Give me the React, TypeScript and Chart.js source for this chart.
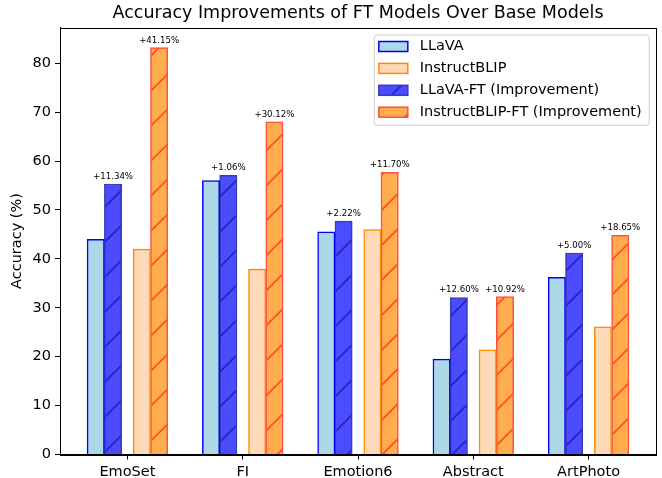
import React, { useEffect, useRef } from "react";
import { Chart, registerables } from "chart.js";

Chart.register(...registerables);

const categories = ["EmoSet", "FI", "Emotion6", "Abstract", "ArtPhoto"];
const llava = [44.0, 56.0, 45.5, 19.5, 36.2];
const instructBlip = [42.0, 37.9, 46.0, 21.4, 26.1];
const llavaFT = [55.3, 57.1, 47.7, 32.1, 41.2];
const instructBlipFT = [83.2, 68.0, 57.7, 32.3, 44.8];
const llavaGain = ["+11.34%", "+1.06%", "+2.22%", "+12.60%", "+5.00%"];
const instructBlipGain = ["+41.15%", "+30.12%", "+11.70%", "+10.92%", "+18.65%"];
const yTicks = [0, 10, 20, 30, 40, 50, 60, 70, 80];

const FONT = "'DejaVu Sans', 'Liberation Sans', sans-serif";
const W = 662;
const H = 478;

function makeHatch(ctx: CanvasRenderingContext2D, fill: string, line: string) {
  const s = 35;
  const c = document.createElement("canvas");
  c.width = s;
  c.height = s;
  const g = c.getContext("2d")!;
  g.fillStyle = fill;
  g.fillRect(0, 0, s, s);
  g.strokeStyle = line;
  g.lineWidth = 1.4;
  g.beginPath();
  for (const k of [0, s, 2 * s]) {
    g.moveTo(k + 3, -3);
    g.lineTo(-3, k + 3);
  }
  g.stroke();
  const p = ctx.createPattern(c, "repeat")!;
  try {
    p.setTransform(new DOMMatrix([1, 0, 0, 1, 31.7, 0]));
  } catch (e) {}
  return p;
}

const framePlugin = {
  id: "frame",
  afterDatasetsDraw(chart: any) {
    const { ctx, chartArea: a } = chart;
    ctx.save();
    ctx.strokeStyle = "#000";
    ctx.lineWidth = 1;
    ctx.strokeRect(Math.round(a.left) + 0.5, Math.round(a.top) + 0.5, Math.round(a.right - a.left), Math.round(a.bottom - a.top));
    ctx.restore();
  },
};

const gainPlugin = {
  id: "gains",
  afterDatasetsDraw(chart: any) {
    const ctx = chart.ctx;
    ctx.save();
    ctx.font = `8.6px ${FONT}`;
    ctx.fillStyle = "#000";
    ctx.textAlign = "center";
    ctx.textBaseline = "alphabetic";
    const pairs: [number, string[]][] = [
      [2, llavaGain],
      [3, instructBlipGain],
    ];
    pairs.forEach(([di, labels]) => {
      chart.getDatasetMeta(di).data.forEach((el: any, i: number) => {
        ctx.fillText(labels[i], el.x, el.y - 5);
      });
    });
    ctx.restore();
  },
};

const legendPlugin = {
  id: "boxLegend",
  afterDraw(chart: any) {
    const { ctx, chartArea } = chart;
    const datasets = chart.data.datasets;
    ctx.save();
    ctx.font = `14.5px ${FONT}`;
    const tw = Math.max(...datasets.map((d: any) => ctx.measureText(d.label).width));
    const padL = 5, patchW = 29, patchH = 10, gap = 12, padR = 7;
    const w = padL + patchW + gap + tw + padR;
    const right = chartArea.right - 7.3;
    const left = right - w;
    const top = chartArea.top + 7;
    const rowH = 21.9;
    const first = 12;
    const h = first + rowH * (datasets.length - 1) + 12.6;
    ctx.beginPath();
    ctx.roundRect(left + 0.5, top + 0.5, w, h, 3);
    ctx.fillStyle = "rgba(255,255,255,0.8)";
    ctx.fill();
    ctx.strokeStyle = "#cccccc";
    ctx.lineWidth = 1;
    ctx.stroke();
    datasets.forEach((d: any, i: number) => {
      const cy = top + first + i * rowH;
      const px = left + padL;
      ctx.fillStyle = d.backgroundColor;
      ctx.fillRect(px, cy - patchH / 2, patchW, patchH);
      ctx.strokeStyle = d.borderColor;
      ctx.lineWidth = 1.5;
      ctx.strokeRect(px, cy - patchH / 2, patchW, patchH);
      ctx.fillStyle = "#000";
      ctx.textAlign = "left";
      ctx.textBaseline = "middle";
      ctx.fillText(d.label, px + patchW + gap, cy);
    });
    ctx.restore();
  },
};

export default function App() {
  const ref = useRef<HTMLCanvasElement | null>(null);

  useEffect(() => {
    document.body.style.margin = "0";
    const canvas = ref.current!;
    const ctx = canvas.getContext("2d")!;

    const series = [
      { label: "LLaVA", values: llava, offset: -0.275, bg: "#add8e6", border: "#0000ff" },
      { label: "InstructBLIP", values: instructBlip, offset: 0.125, bg: "#ffdab9", border: "#ff8c00" },
      { label: "LLaVA-FT (Improvement)", values: llavaFT, offset: -0.125, bg: makeHatch(ctx, "#4b4bff", "#1a1aa8"), border: "#3a3ab2" },
      { label: "InstructBLIP-FT (Improvement)", values: instructBlipFT, offset: 0.275, bg: makeHatch(ctx, "#ffad4d", "#ff3417"), border: "#ff4d40" },
    ];

    const chart = new Chart(canvas, {
      type: "bar",
      data: {
        datasets: series.map((s) => ({
          label: s.label,
          data: s.values.map((v, i) => ({ x: i + s.offset, y: v })),
          backgroundColor: s.bg as any,
          borderColor: s.border,
          borderWidth: 1.5,
          grouped: false,
          barPercentage: 1,
          categoryPercentage: 1,
        })),
      },
      options: {
        animation: false,
        responsive: false,
        devicePixelRatio: 1,
        layout: { padding: { left: 0, right: 6, top: 0, bottom: 0 } },
        plugins: {
          legend: { display: false },
          tooltip: { enabled: false },
          title: {
            display: true,
            text: "Accuracy Improvements of FT Models Over Base Models",
            font: { family: FONT, size: 17.5, weight: "normal" as any },
            color: "#000",
            padding: { top: 2.5, bottom: 4 },
            fullSize: false,
          },
        },
        scales: {
          x: {
            type: "linear",
            min: -0.585,
            max: 4.585,
            offset: false,
            afterBuildTicks: (s: any) => {
              s.ticks = categories.map((_, i) => ({ value: i }));
            },
            afterFit: (s: any) => {
              s.height = 23.5;
            },
            ticks: {
              autoSkip: false,
              maxRotation: 0,
              padding: 4,
              color: "#000",
              font: { family: FONT, size: 14.5 },
              callback: (v: any) => categories[Math.round(Number(v))],
            },
            grid: { offset: false, drawOnChartArea: false, tickLength: 5, color: "#000", lineWidth: 1 },
            border: { display: true, color: "#000", width: 1 },
          },
          y: {
            min: 0,
            max: 87.3,
            afterBuildTicks: (s: any) => {
              s.ticks = yTicks.map((v) => ({ value: v }));
            },
            afterFit: (s: any) => {
              s.width = 60;
            },
            ticks: { padding: 4, color: "#000", font: { family: FONT, size: 14.5 } },
            grid: { drawOnChartArea: false, tickLength: 5, color: "#000", lineWidth: 1 },
            border: { display: true, color: "#000", width: 1 },
            title: {
              display: true,
              text: "Accuracy (%)",
              color: "#000",
              font: { family: FONT, size: 14.5 },
              padding: { top: 9, bottom: 0 },
            },
          },
        },
      },
      plugins: [framePlugin, gainPlugin, legendPlugin],
    });

    return () => chart.destroy();
  }, []);

  return (
    <div style={{ position: "relative", width: W, height: H }}>
      <canvas ref={ref} width={W} height={H} style={{ display: "block", width: W, height: H }} />
    </div>
  );
}
